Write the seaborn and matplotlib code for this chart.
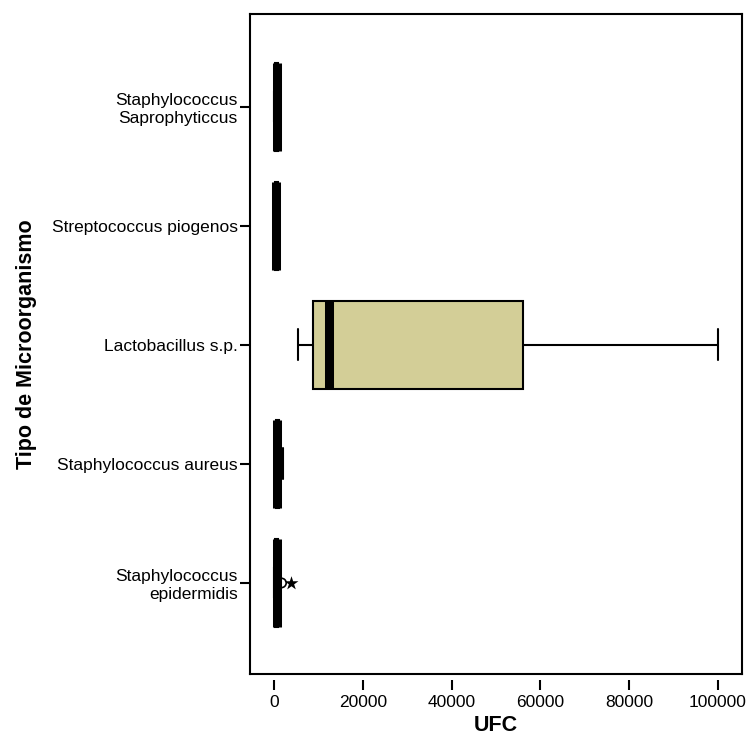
import numpy as np
import pandas as pd
import matplotlib
matplotlib.use('Agg')
import matplotlib.pyplot as plt
import seaborn as sns

# Data (UFC per microorganism)
categories = ['Staphylococcus\nSaprophyticcus', 'Streptococcus piogenos',
              'Lactobacillus s.p.', 'Staphylococcus aureus',
              'Staphylococcus\nepidermidis']

ufc_saprophyticcus = [100, 300, 600, 1000, 1300]
ufc_piogenos = [100, 300, 500, 800, 1000]
ufc_lactobacillus = [5400, 8800, 12400, 56000, 100000]
ufc_aureus = [200, 400, 700, 1100, 2000]
ufc_epidermidis = [100, 200, 300, 300, 500, 600, 700, 800, 800, 1700, 3800]

x_ticks = [0, 20000, 40000, 60000, 80000, 100000]

values = [ufc_saprophyticcus, ufc_piogenos, ufc_lactobacillus, ufc_aureus, ufc_epidermidis]
df = pd.concat([pd.DataFrame({'Tipo': c, 'UFC': v}) for c, v in zip(categories, values)],
               ignore_index=True)

sns.set_style('ticks')
plt.rcParams['font.family'] = ['Liberation Sans', 'DejaVu Sans']

fig = plt.figure(figsize=(7.47, 7.37), dpi=100)
ax = fig.add_axes([250 / 747, 1 - 674 / 737, (742 - 250) / 747, (674 - 14) / 737])

sns.boxplot(data=df, x='UFC', y='Tipo', order=categories, color='#D3CE97',
            saturation=1, width=0.74, showfliers=False, linewidth=1.5,
            linecolor='black', medianprops=dict(color='black', linewidth=6.5),
            capwidths=0.26, ax=ax)

# SPSS style outliers: circle for > 1.5 IQR, star for > 3 IQR
mild_x, mild_y, ext_x, ext_y = [], [], [], []
for i, v in enumerate(values):
    v = np.array(v)
    q1, q3 = np.percentile(v, [25, 75])
    iqr = q3 - q1
    for p in v:
        d = max(p - q3, q1 - p)
        if d > 3 * iqr:
            ext_x.append(p)
            ext_y.append(i)
        elif d > 1.5 * iqr:
            mild_x.append(p)
            mild_y.append(i)

sns.scatterplot(x=mild_x, y=mild_y, marker='o', s=45, facecolor='none',
                edgecolor='black', linewidth=1.2, ax=ax, zorder=1)
sns.scatterplot(x=ext_x, y=ext_y, marker='*', s=110, color='black',
                linewidth=0, ax=ax, zorder=3)

ax.set_xlim(-5400, 105400)
ax.set_ylim(4.765, -0.78)
ax.set_xticks(x_ticks)
ax.set_xticklabels([str(t) for t in x_ticks])

for s in ax.spines.values():
    s.set_linewidth(1.5)
    s.set_color('black')
ax.spines['bottom'].set_position(('outward', 4))
ax.spines['bottom'].set_visible(False)
ax.plot([0, 1], [0, 0], transform=ax.transAxes, color='black', lw=1.5,
        clip_on=False, solid_capstyle='projecting')

ax.tick_params(axis='both', length=7, width=1.5, labelsize=12.5,
               colors='black', direction='out')
ax.tick_params(axis='y', pad=2)
ax.tick_params(axis='x', pad=4)

ax.set_xlabel('UFC', fontsize=15.5, fontweight='bold', labelpad=4, color='black')
ax.set_ylabel('Tipo de Microorganismo', fontsize=15.5, fontweight='bold', color='black')
ax.yaxis.set_label_coords(-0.433, 0.5)

fig.savefig('out.png', dpi=100)
